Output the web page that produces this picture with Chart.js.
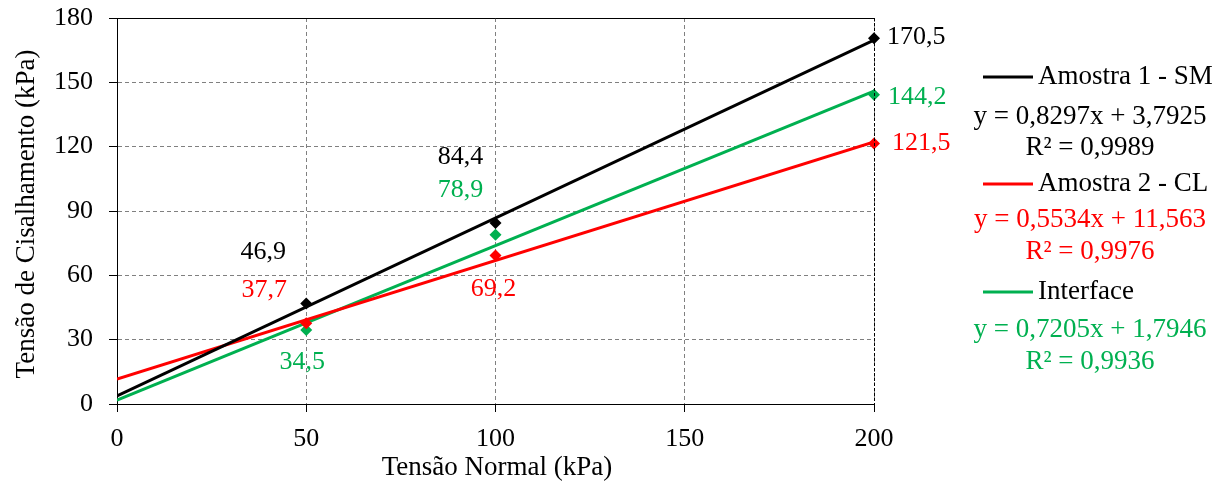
<!DOCTYPE html>
<html>
<head>
<meta charset="utf-8">
<script src="https://cdn.jsdelivr.net/npm/chart.js@4/dist/chart.umd.min.js"></script>
<style>
  html, body { margin: 0; padding: 0; background: #fff; }
  #wrap { width: 1223px; height: 489px; position: relative; }
</style>
</head>
<body>
<div id="wrap"><canvas id="c" width="1223" height="489"></canvas></div>
<script>
// Shear test: shear stress vs normal stress, three samples with linear trendlines.
const normalStress = [50, 100, 200];
const seriesNames = ["Amostra 1 - SM", "Amostra 2 - CL", "Interface"];
const amostra1 = [46.9, 84.4, 170.5];
const amostra2 = [37.7, 69.2, 121.5];
const interfaceVals = [34.5, 78.9, 144.2];
const trendX = [0, 200];
const trend1 = [3.8, 169.7];
const trend2 = [11.6, 122.2];
const trend3 = [1.8, 145.9];
const equations = ["y = 0,8297x + 3,7925", "y = 0,5534x + 11,563", "y = 0,7205x + 1,7946"];
const rSquared = ["R² = 0,9989", "R² = 0,9976", "R² = 0,9936"];
const xTicks = [0, 50, 100, 150, 200];
const yTicks = [0, 30, 60, 90, 120, 150, 180];

const colors = ["#000000", "#ff0000", "#00b050"];
const FONT = "'Liberation Serif', 'Times New Roman', serif";

// label offsets (px) from each point, per series
const labelOffsets = [
  [[-43, -51, "center"], [-35, -66, "center"], [13, -1, "left"]],
  [[-42, -33, "center"], [-2, 34, "center"], [18, 0, "left"]],
  [[-4, 32, "center"], [-35, -45, "center"], [14, 2, "left"]],
];

const pts = (ys) => normalStress.map((x, i) => ({ x, y: ys[i] }));
const line = (ys) => trendX.map((x, i) => ({ x, y: ys[i] }));
const pointSets = [amostra1, amostra2, interfaceVals];
const trendSets = [trend1, trend2, trend3];

const datasets = [];
trendSets.forEach((t, i) => {
  datasets.push({
    label: seriesNames[i],
    data: line(t),
    showLine: true,
    borderColor: colors[i],
    borderWidth: 3,
    pointRadius: 0,
    order: 2,
  });
});
pointSets.forEach((p, i) => {
  datasets.push({
    label: seriesNames[i] + " pts",
    data: pts(p),
    showLine: false,
    pointStyle: "rectRot",
    pointRadius: 6,
    backgroundColor: colors[i],
    borderColor: colors[i],
    borderWidth: 0,
    clip: false,
    order: 1,
  });
});

const decorations = {
  id: "decorations",
  afterDraw(chart) {
    const { ctx, chartArea: a, scales } = chart;
    ctx.save();
    // top and right frame
    ctx.strokeStyle = "#000";
    ctx.lineWidth = 1;
    ctx.beginPath();
    ctx.moveTo(a.left, a.top + 0.5);
    ctx.lineTo(a.right, a.top + 0.5);
    ctx.stroke();
    ctx.setLineDash([3, 2]);
    ctx.beginPath();
    ctx.moveTo(a.right + 0.5, a.top);
    ctx.lineTo(a.right + 0.5, a.bottom);
    ctx.stroke();
    ctx.setLineDash([]);

    // data labels
    ctx.font = "26px " + FONT;
    ctx.textBaseline = "middle";
    pointSets.forEach((vals, s) => {
      ctx.fillStyle = colors[s];
      vals.forEach((v, i) => {
        const [dx, dy, align] = labelOffsets[s][i];
        const px = scales.x.getPixelForValue(normalStress[i]);
        const py = scales.y.getPixelForValue(v);
        ctx.textAlign = align;
        ctx.fillText(String(v).replace(".", ","), px + dx, py + dy);
      });
    });

    // axis titles
    ctx.fillStyle = "#000";
    ctx.font = "27px " + FONT;
    ctx.textAlign = "center";
    ctx.fillText("Tensão Normal (kPa)", 497, 468);
    ctx.save();
    ctx.translate(27, 214);
    ctx.rotate(-Math.PI / 2);
    ctx.fillText("Tensão de Cisalhamento (kPa)", 0, 0);
    ctx.restore();

    // legend with trendline equations
    const rows = [[77, 117, 148], [184, 220, 252], [292, 330, 362]];
    seriesNames.forEach((name, i) => {
      const [ly, ey, ry] = rows[i];
      ctx.strokeStyle = colors[i];
      ctx.lineWidth = 3;
      ctx.beginPath();
      ctx.moveTo(983, ly);
      ctx.lineTo(1033, ly);
      ctx.stroke();
      ctx.fillStyle = "#000";
      ctx.font = "27px " + FONT;
      ctx.textAlign = "left";
      ctx.fillText(name, 1038, ly);
      ctx.fillStyle = colors[i];
      ctx.textAlign = "center";
      ctx.fillText(equations[i], 1090, ey);
      ctx.fillText(rSquared[i], 1090, ry);
    });
    ctx.restore();
  },
};

new Chart(document.getElementById("c"), {
  type: "scatter",
  data: { datasets },
  options: {
    responsive: false,
    animation: false,
    devicePixelRatio: 1,
    layout: { padding: { left: 0, right: 349, top: 18, bottom: 0 } },
    plugins: { legend: { display: false }, tooltip: { enabled: false } },
    scales: {
      x: {
        type: "linear",
        min: xTicks[0],
        max: xTicks[xTicks.length - 1],
        afterFit: (s) => { s.height = 85; s.paddingLeft = 0; s.paddingRight = 0; },
        afterBuildTicks: (s) => { s.ticks = xTicks.map((v) => ({ value: v })); },
        ticks: { color: "#000", font: { family: FONT, size: 26 }, padding: 12 },
        grid: {
          color: "#808080", lineWidth: 1, tickLength: 8,
          tickColor: "#000", tickBorderDash: [], tickWidth: 1,
        },
        border: { color: "#000", width: 1, dash: [4, 3] },
      },
      y: {
        type: "linear",
        min: yTicks[0],
        max: yTicks[yTicks.length - 1],
        afterFit: (s) => { s.width = 117; s.paddingTop = 0; s.paddingBottom = 0; },
        afterBuildTicks: (s) => { s.ticks = yTicks.map((v) => ({ value: v })); },
        ticks: { color: "#000", font: { family: FONT, size: 26 }, padding: 16 },
        grid: {
          color: "#808080", lineWidth: 1, tickLength: 8,
          tickColor: "#000", tickBorderDash: [], tickWidth: 1,
        },
        border: { color: "#000", width: 1, dash: [4, 3] },
      },
    },
  },
  plugins: [decorations],
});
</script>
</body>
</html>
